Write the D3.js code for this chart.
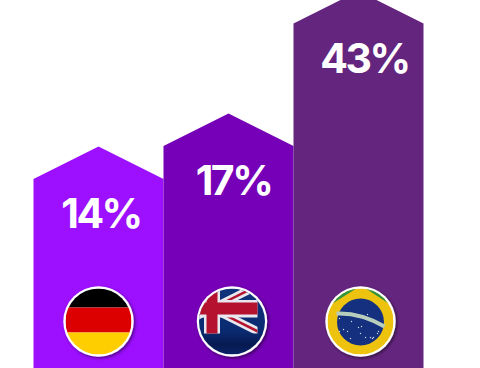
<!DOCTYPE html>
<html>
<head>
<meta charset="utf-8">
<script src="https://cdn.jsdelivr.net/npm/d3@7"></script>
<style>
  html, body { margin: 0; padding: 0; background: #fff; }
  svg { display: block; }
</style>
</head>
<body>
<div id="container"></div>
<script>
let w = 480;
let h = 368;

let countries = ["Germany", "Australia", "Brazil"];
let values = [14, 17, 43];
let labels = ["14%", "17%", "43%"];
let colors = ["#9c0fff", "#7500b7", "#64257e"];

// the bars in the picture are not proportional, so the scale has a stop per value
let shoulderY = [179, 146, 23.5];
let yScale = d3.scaleLinear().domain(values).range(shoulderY);
let xScale = d3.scaleBand().domain(countries).range([33.5, 423.5]);

let flagX = d3.scaleOrdinal().domain(countries).range([98.5, 232, 360.5]);
let labelX = d3.scaleOrdinal().domain(countries).range([101, 233.5, 364.5]);
let flagY = 321.5;
let flagR = 33;

let brazilStars = [[-21,-3],[-9,0],[-17,8],[-13,10],[-21,10],[-2,6],[1,5],[0,12],[-10,17],[5,16],[10,16],[12,17],[18,10],[17,12],[13,16],[7,-7]];

let viz = d3.select("#container")
  .append("svg")
    .attr("width", w)
    .attr("height", h)
    .style("background-color", "white")
;

let defs = viz.append("defs");

let shadow = defs.append("filter").attr("id", "shadow")
  .attr("x", "-20%").attr("y", "-20%").attr("width", "150%").attr("height", "150%");
shadow.append("feDropShadow")
  .attr("dx", 1.5).attr("dy", 1.5).attr("stdDeviation", 1.5)
  .attr("flood-color", "#000").attr("flood-opacity", 0.5);

defs.append("clipPath").attr("id", "flagclip")
  .append("circle").attr("r", flagR);

defs.append("clipPath").attr("id", "unionclip")
  .append("rect").attr("x", -40).attr("y", -40).attr("width", 65.5).attr("height", 52);

let navy = defs.append("linearGradient").attr("id", "navy")
  .attr("x1", 0).attr("x2", 0).attr("y1", 0).attr("y2", 1);
navy.append("stop").attr("offset", "0%").attr("stop-color", "#10337c");
navy.append("stop").attr("offset", "65%").attr("stop-color", "#0a2a70");
navy.append("stop").attr("offset", "85%").attr("stop-color", "#071a50");
navy.append("stop").attr("offset", "100%").attr("stop-color", "#0a2468");

function barPath(d, i){
  let x0 = xScale(d);
  let x1 = x0 + xScale.bandwidth();
  let top = yScale(values[i]);
  let p = d3.path();
  p.moveTo(x0, h);
  p.lineTo(x0, top);
  p.lineTo((x0 + x1) / 2, top - xScale.bandwidth() / 4);
  p.lineTo(x1, top);
  p.lineTo(x1, h);
  p.closePath();
  return p.toString();
}

viz.selectAll(".bar").data(countries).enter()
  .append("path")
    .classed("bar", true)
    .attr("d", barPath)
    .attr("fill", (d, i) => colors[i])
;

viz.selectAll(".label").data(countries).enter()
  .append("text")
    .classed("label", true)
    .text((d, i) => labels[i])
    .attr("x", d => labelX(d))
    .attr("y", (d, i) => yScale(values[i]) + 49)
    .attr("text-anchor", "middle")
    .attr("fill", "white")
    .style("font-family", "Inter, 'Open Sans', sans-serif")
    .style("font-weight", 700)
    .style("font-size", "41px")
    .style("letter-spacing", "-2.5px")
;

let flags = viz.selectAll(".flag").data(countries).enter()
  .append("g")
    .classed("flag", true)
    .attr("transform", d => "translate(" + flagX(d) + "," + flagY + ")")
;

flags.append("circle")
  .attr("r", flagR + 2.2)
  .attr("fill", "white")
  .attr("filter", "url(#shadow)")
;

let inner = flags.append("g")
  .attr("clip-path", "url(#flagclip)")
;

function drawGermany(g){
  g.append("rect").attr("x", -flagR).attr("y", -flagR).attr("width", 2 * flagR).attr("height", 19).attr("fill", "#000");
  g.append("rect").attr("x", -flagR).attr("y", -14).attr("width", 2 * flagR).attr("height", 25).attr("fill", "#dd0000");
  g.append("rect").attr("x", -flagR).attr("y", 11).attr("width", 2 * flagR).attr("height", 22).attr("fill", "#ffce00");
}

function drawAustralia(g){
  g.append("rect").attr("x", -flagR).attr("y", -flagR).attr("width", 2 * flagR).attr("height", 2 * flagR)
    .attr("fill", "url(#navy)");
  let union = g.append("g").attr("clip-path", "url(#unionclip)");
  let cx = -20, cy = -13;
  let diagonals = [[cx, cy, 26, -36], [cx, cy, 30, 12], [cx, cy, -40, -3], [cx, cy, -40, -33]];
  diagonals.forEach(function(l){
    union.append("line").attr("x1", l[0]).attr("y1", l[1]).attr("x2", l[2]).attr("y2", l[3])
      .attr("stroke", "#e8e8ee").attr("stroke-width", 8);
  });
  diagonals.forEach(function(l){
    union.append("line").attr("x1", l[0]).attr("y1", l[1]).attr("x2", l[2]).attr("y2", l[3])
      .attr("stroke", "#b5122f").attr("stroke-width", 2.5);
  });
  union.append("rect").attr("x", -40).attr("y", -21.5).attr("width", 70).attr("height", 17.5).attr("fill", "#e8e8ee");
  union.append("rect").attr("x", -28).attr("y", -40).attr("width", 16).attr("height", 55).attr("fill", "#e8e8ee");
  union.append("rect").attr("x", -40).attr("y", -19).attr("width", 70).attr("height", 12).attr("fill", "#b5122f");
  union.append("rect").attr("x", -25.5).attr("y", -40).attr("width", 11).attr("height", 55).attr("fill", "#b5122f");
}

function drawBrazil(g){
  g.append("rect").attr("x", -flagR).attr("y", -flagR).attr("width", 2 * flagR).attr("height", 2 * flagR).attr("fill", "#eec30f");
  g.append("path").attr("d", "M-36,-13L-5,-32.5L-5,-36L-36,-36Z").attr("fill", "#2e9440");
  g.append("path").attr("d", "M36,-13L6,-32.5L6,-36L36,-36Z").attr("fill", "#2e9440");
  g.append("path").attr("d", "M-23,24L-12,34L-36,36L-36,20Z").attr("fill", "#2e9440");
  g.append("path").attr("d", "M23,24L12,34L36,36L36,20Z").attr("fill", "#2e9440");
  g.append("circle").attr("cy", 0.5).attr("r", 23.5).attr("fill", "#14307f");
  g.append("path")
    .attr("d", "M-24,-8Q0,-9 24,5")
    .attr("fill", "none").attr("stroke", "#b9cdbd").attr("stroke-width", 4);
  g.selectAll(".star").data(brazilStars).enter()
    .append("circle")
      .classed("star", true)
      .attr("cx", d => d[0])
      .attr("cy", d => d[1])
      .attr("r", 0.7)
      .attr("fill", "#cfd8e8");
}

inner.filter(d => d == "Germany").call(drawGermany);
inner.filter(d => d == "Australia").call(drawAustralia);
inner.filter(d => d == "Brazil").call(drawBrazil);
</script>
</body>
</html>
